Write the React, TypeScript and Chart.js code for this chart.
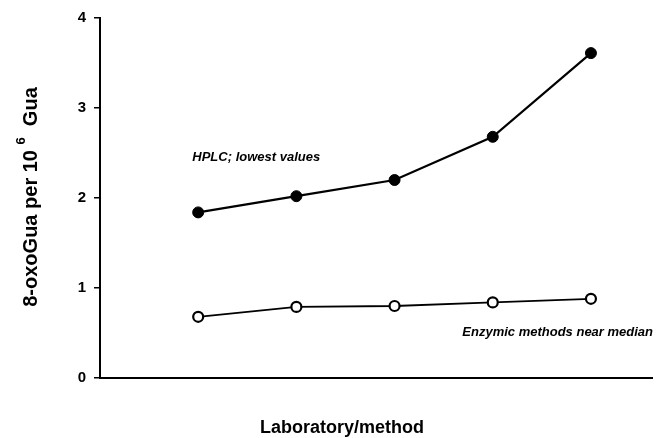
import React, { useEffect, useRef } from "react";
import { Chart, registerables } from "chart.js";

Chart.register(...registerables);

const labs = [1, 2, 3, 4, 5];
const hplcLowest = [1.84, 2.02, 2.2, 2.68, 3.61];
const enzymicMedian = [0.68, 0.79, 0.8, 0.84, 0.88];
const yTicks = [0, 1, 2, 3, 4];
const xTitle = "Laboratory/method";
const yTitleParts = ["8-oxoGua per 10", "6", "Gua"];
const hplcNote = "HPLC; lowest values";
const enzymicNote = "Enzymic methods near median";

const FONT = "'Liberation Sans', Arial, Helvetica, sans-serif";

const textPlugin = {
  id: "customText",
  afterDraw(chart: any) {
    const ctx = chart.ctx;
    const xs = chart.scales.x;
    const ys = chart.scales.y;
    ctx.save();
    ctx.fillStyle = "#000";
    // annotations
    ctx.font = `italic bold 13px ${FONT}`;
    ctx.textBaseline = "middle";
    ctx.textAlign = "left";
    ctx.fillText(hplcNote, xs.getPixelForValue(0.94), ys.getPixelForValue(2.45));
    ctx.fillText(enzymicNote, xs.getPixelForValue(3.69), ys.getPixelForValue(0.51));
    // x title
    ctx.font = `bold 18px ${FONT}`;
    ctx.textAlign = "center";
    ctx.fillText(xTitle, 342, 428);
    // y title with superscript
    ctx.translate(31, 197);
    ctx.rotate(-Math.PI / 2);
    const big = `bold 20px ${FONT}`;
    const small = `bold 13px ${FONT}`;
    ctx.font = big;
    const w1 = ctx.measureText(yTitleParts[0] + " ").width;
    const w3 = ctx.measureText("  " + yTitleParts[2]).width;
    ctx.font = small;
    const w2 = ctx.measureText(yTitleParts[1]).width;
    const total = w1 + w2 + w3;
    let x = -total / 2;
    ctx.textAlign = "left";
    ctx.font = big;
    ctx.fillText(yTitleParts[0] + " ", x, 0);
    x += w1;
    ctx.font = small;
    ctx.fillText(yTitleParts[1], x, -10);
    x += w2;
    ctx.font = big;
    ctx.fillText("  " + yTitleParts[2], x, 0);
    ctx.restore();
  },
};

export default function App() {
  const ref = useRef<HTMLCanvasElement>(null);
  useEffect(() => {
    if (!ref.current) return;
    const chart = new Chart(ref.current, {
      type: "line",
      data: {
        datasets: [
          {
            label: "HPLC",
            data: labs.map((l, i) => ({ x: l, y: hplcLowest[i] })),
            borderColor: "#000",
            borderWidth: 2.2,
            pointRadius: 5.5,
            pointBackgroundColor: "#000",
            pointBorderColor: "#000",
            pointBorderWidth: 1,
            clip: false as any,
          },
          {
            label: "Enzymic",
            data: labs.map((l, i) => ({ x: l, y: enzymicMedian[i] })),
            borderColor: "#000",
            borderWidth: 1.8,
            pointRadius: 5,
            pointBackgroundColor: "#fff",
            pointBorderColor: "#000",
            pointBorderWidth: 2.2,
            clip: false as any,
          },
        ],
      },
      options: {
        animation: false,
        responsive: false,
        maintainAspectRatio: false,
        layout: { padding: { left: 0, top: 18, right: 5, bottom: 0 } },
        plugins: { legend: { display: false }, tooltip: { enabled: false } },
        scales: {
          x: {
            type: "linear",
            min: 0,
            max: 5.63,
            grid: { display: false, drawTicks: false },
            border: { display: true, color: "#000", width: 2 },
            ticks: { display: false },
            afterFit: (s: any) => {
              s.height = 60;
            },
          },
          y: {
            min: 0,
            max: 4,
            afterBuildTicks: (s: any) => {
              s.ticks = yTicks.map((v) => ({ value: v }));
            },
            grid: {
              drawOnChartArea: false,
              drawTicks: true,
              tickLength: 6,
              color: "#000",
              lineWidth: 1.5,
            },
            border: { display: true, color: "#000", width: 2 },
            ticks: {
              color: "#000",
              padding: 8,
              font: { family: FONT, size: 15, weight: "bold" },
            },
            afterFit: (s: any) => {
              s.width = 100;
            },
          },
        },
      },
      plugins: [textPlugin],
    });
    return () => chart.destroy();
  }, []);
  return (
    <div style={{ position: "fixed", left: 0, top: 0, width: 660, height: 438, background: "#fff" }}>
      <canvas ref={ref} width={660} height={438} style={{ width: 660, height: 438 }} />
    </div>
  );
}
